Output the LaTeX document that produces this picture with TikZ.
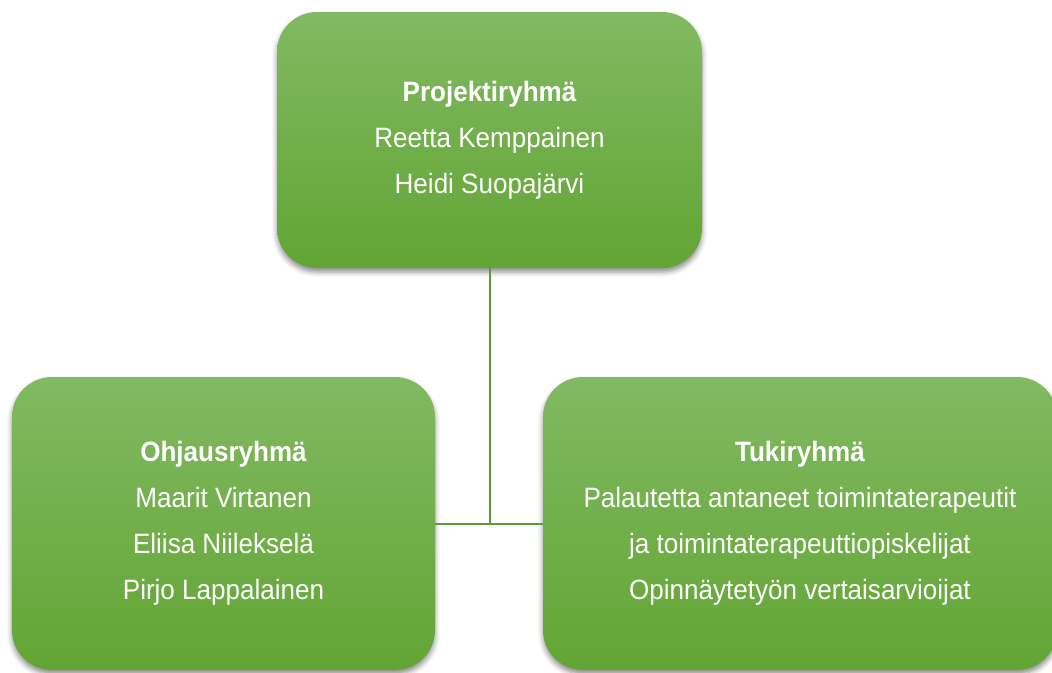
\documentclass[tikz,border=0pt]{standalone}
\usepackage{fontspec}
\setmainfont{Liberation Sans}[FakeStretch=0.93]
\usetikzlibrary{positioning,shadows.blur}

\definecolor{boxtop}{HTML}{82B962}
\definecolor{boxbottom}{HTML}{62A534}
\definecolor{linkgreen}{HTML}{5A9A38}

\tikzset{
    groupbox/.style={rounded corners=40pt, top color=boxtop, bottom color=boxbottom,
        text=white, align=center, inner sep=0pt,
        font=\fontsize{28}{46}\selectfont,
        blur shadow={shadow xshift=0pt, shadow yshift=-4pt, shadow blur radius=5pt,
            shadow opacity=45}},
    link/.style={draw=linkgreen, line width=2pt}
}

\begin{document}
\begin{tikzpicture}[x=1pt,y=-1pt]
    \useasboundingbox (0,0) rectangle (1052,672);
    \node[groupbox, minimum width=425pt, minimum height=256pt] (proj) at (489.5,140)
        {\textbf{Projektiryhmä}\\Reetta Kemppainen\\Heidi Suopajärvi};
    \node[groupbox, minimum width=423pt, minimum height=293pt] (ohj) at (223.5,523.5)
        {\textbf{Ohjausryhmä}\\Maarit Virtanen\\Eliisa Niilekselä\\Pirjo Lappalainen};
    \node[groupbox, minimum width=514pt, minimum height=293pt] (tuki) at (800,523.5)
        {\textbf{Tukiryhmä}\\Palautetta antaneet toimintaterapeutit\\ja toimintaterapeuttiopiskelijat\\Opinnäytetyön vertaisarvioijat};
    \coordinate (join) at (proj.south |- ohj.east);
    \path[link] (proj.south) edge (join)
                (ohj.east)   edge (tuki.west);
\end{tikzpicture}
\end{document}
